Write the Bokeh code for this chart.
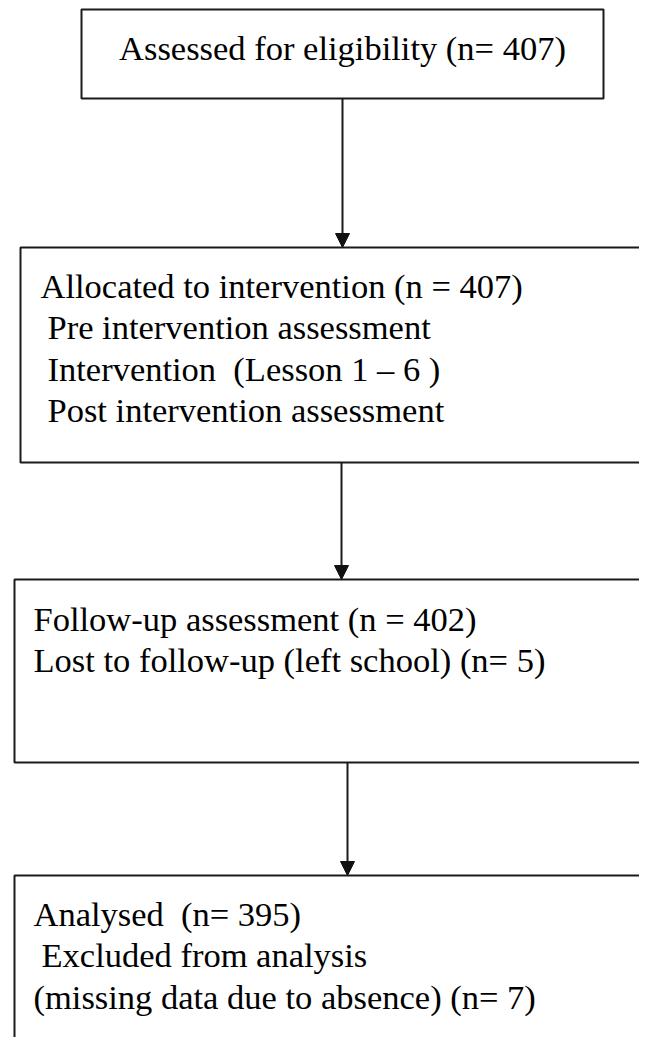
from bokeh.plotting import figure
from bokeh.models import Range1d, Arrow, NormalHead, ColumnDataSource
from bokeh.core.properties import value
from bokeh.embed import file_html
from bokeh.resources import INLINE

# ---- data (flow stages and counts) ----
stage_titles = [
    "Assessed for eligibility (n= 407)",
    "Allocated to intervention (n = 407)",
    "Follow-up assessment (n = 402)",
    "Analysed\u00a0 (n= 395)",
]
stage_details = [
    [],
    ["Pre intervention assessment",
     "Intervention\u00a0 (Lesson 1 \u2013 6 )",
     "Post intervention assessment"],
    ["Lost to follow-up (left school) (n= 5)"],
    ["Excluded from analysis",
     "(missing data due to absence) (n= 7)"],
]

# ---- layout (pixel geometry, y downward) ----
boxes = dict(left=[81, 20, 14, 14], right=[603, 720, 720, 720],
             top=[9, 247, 579, 875], bottom=[98, 462, 762, 1120])
arrows = [(342, 98, 247), (341, 462, 579), (347, 762, 875)]
title_pos = [(342, 61, "center"), (40, 299, "left"), (33, 632, "left"), (33, 927, "left")]
detail_x = [[], [47, 47, 47], [33], [41, 33]]
line_gap = 41.5
baseline_adjust = -14  # renderer places the alphabetic baseline lower than requested

W, H = 639, 1037
p = figure(width=W, height=H, output_backend="svg", toolbar_location=None,
           x_range=Range1d(0, W), y_range=Range1d(H, 0),
           min_border=0, outline_line_color=None, background_fill_color="white")
p.axis.visible = False
p.xgrid.visible = False
p.ygrid.visible = False

p.quad(left=boxes["left"], right=boxes["right"], top=boxes["top"], bottom=boxes["bottom"],
       fill_color=None, line_color="#1a1a1a", line_width=2)

for (x, y0, y1) in arrows:
    p.add_layout(Arrow(x_start=x, y_start=y0, x_end=x, y_end=y1,
                       line_color="#1a1a1a", line_width=2,
                       end=NormalHead(size=14, fill_color="#111111", line_color="#111111", line_width=1)))

font = value("Liberation Serif")
fs = "34.5px"
xs, ys, txt, al = [], [], [], []
for i, title in enumerate(stage_titles):
    tx, ty, a = title_pos[i]
    ty = ty + baseline_adjust
    xs.append(tx); ys.append(ty); txt.append(title); al.append(a)
    for j, d in enumerate(stage_details[i]):
        xs.append(detail_x[i][j]); ys.append(ty + line_gap * (j + 1)); txt.append(d); al.append("left")

src = ColumnDataSource(dict(x=xs, y=ys, text=txt, align=al))
p.text(x="x", y="y", text="text", source=src, text_align="align",
       text_baseline="alphabetic", text_font=font, text_font_size=fs, text_color="#000000")

open("out.html", "w").write(file_html(p, INLINE))
